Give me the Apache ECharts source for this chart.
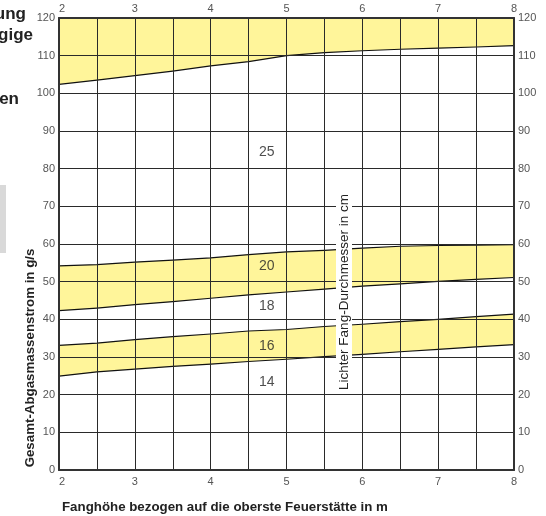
<!DOCTYPE html>
<html>
<head>
<meta charset="utf-8">
<script src="https://cdn.jsdelivr.net/npm/echarts@6/dist/echarts.min.js"></script>
<style>
html,body{margin:0;padding:0;background:#fff;}
#chart{width:546px;height:516px;}
</style>
</head>
<body>
<div id="chart"></div>
<script>
// Fanghöhe (m) sample positions
const xs = [2, 2.5, 3, 3.5, 4, 4.5, 5, 5.5, 6, 6.5, 7, 7.5, 8];
// Band "25" (upper yellow band, top at 120)
const band25Upper = [120, 120, 120, 120, 120, 120, 120, 120, 120, 120, 120, 120, 120];
const band25Lower = [102.4, 103.5, 104.7, 105.9, 107.3, 108.4, 110.0, 110.8, 111.3, 111.7, 112.0, 112.3, 112.65];
// Band "20"
const band20Upper = [54.2, 54.5, 55.2, 55.7, 56.3, 57.2, 57.9, 58.3, 58.9, 59.4, 59.6, 59.7, 59.8];
const band20Lower = [42.3, 43.0, 43.9, 44.7, 45.6, 46.5, 47.25, 48.0, 48.8, 49.4, 50.1, 50.6, 51.1];
// Band "16"
const band16Upper = [33.1, 33.7, 34.6, 35.4, 36.1, 36.9, 37.3, 38.1, 38.7, 39.4, 40.0, 40.7, 41.4];
const band16Lower = [24.9, 26.05, 26.8, 27.5, 28.1, 28.8, 29.4, 30.1, 30.7, 31.4, 32.0, 32.7, 33.3];
// Diameter labels (cm)
const diamLabels = ['25', '20', '18', '16', '14'];
const diamLabelX = [4.74, 4.74, 4.74, 4.74, 4.74];
const diamLabelY = [84.3, 54.2, 43.4, 32.8, 23.4];
// Axis ticks
const xTickMin = 2, xTickMax = 8;
const yTickMin = 0, yTickMax = 120;

const bands = [
  {upper: band25Upper, lower: band25Lower},
  {upper: band20Upper, lower: band20Lower},
  {upper: band16Upper, lower: band16Lower}
];

const chart = echarts.init(document.getElementById('chart'), null, {renderer: 'canvas'});
const FONT = '"Liberation Sans", Arial, Helvetica, sans-serif';
const lineColor = '#2a2a2a';
const labelStyle = {color: '#555', fontSize: 11, fontFamily: FONT};
const xFmt = v => Number.isInteger(v) ? String(v) : '';

const option = {
  animation: false,
  backgroundColor: '#fff',
  grid: {left: 59, right: 32, top: 18, bottom: 46, containLabel: false},
  xAxis: [
    {
      type: 'value', position: 'bottom', min: xTickMin, max: xTickMax, interval: 0.5, z: 5,
      axisLine: {show: true, onZero: false, lineStyle: {color: '#333', width: 2}},
      axisTick: {show: false},
      axisLabel: Object.assign({formatter: xFmt, margin: 6, alignMinLabel: 'left'}, labelStyle),
      splitLine: {show: true, lineStyle: {color: lineColor, width: 1}}
    },
    {
      type: 'value', position: 'top', min: xTickMin, max: xTickMax, interval: 0.5, z: 5,
      axisLine: {show: true, onZero: false, lineStyle: {color: '#333', width: 2}},
      axisTick: {show: false},
      axisLabel: Object.assign({formatter: xFmt, margin: 4, alignMinLabel: 'left'}, labelStyle),
      splitLine: {show: false}
    }
  ],
  yAxis: [
    {
      type: 'value', position: 'left', min: yTickMin, max: yTickMax, interval: 10, z: 5,
      axisLine: {show: true, onZero: false, lineStyle: {color: '#333', width: 2}},
      axisTick: {show: false},
      axisLabel: Object.assign({margin: 4}, labelStyle),
      splitLine: {show: true, lineStyle: {color: lineColor, width: 1}}
    },
    {
      type: 'value', position: 'right', min: yTickMin, max: yTickMax, interval: 10, z: 5,
      axisLine: {show: true, onZero: false, lineStyle: {color: '#333', width: 2}},
      axisTick: {show: false},
      axisLabel: Object.assign({margin: 4}, labelStyle),
      splitLine: {show: false}
    }
  ],
  series: [
    {
      type: 'custom', z: 1, xAxisIndex: 0, yAxisIndex: 0,
      data: bands.map(b => [xs[0], b.lower[0]]),
      renderItem: function (params, api) {
        const b = bands[params.dataIndex];
        const up = xs.map((x, i) => api.coord([x, b.upper[i]]));
        const lo = xs.map((x, i) => api.coord([x, b.lower[i]]));
        return {
          type: 'group',
          children: [
            {type: 'polygon', shape: {points: up.concat(lo.slice().reverse())}, style: {fill: '#fff59a', stroke: null}},
            {type: 'polyline', shape: {points: up}, style: {stroke: '#111', lineWidth: 1.2, fill: null}},
            {type: 'polyline', shape: {points: lo}, style: {stroke: '#111', lineWidth: 1.2, fill: null}}
          ]
        };
      }
    },
    {
      type: 'scatter', z: 10, xAxisIndex: 0, yAxisIndex: 0,
      symbolSize: 0,
      data: diamLabels.map((t, i) => [diamLabelX[i], diamLabelY[i], t]),
      label: {
        show: true, position: 'inside', formatter: p => p.value[2],
        color: '#222', fontSize: 14, fontFamily: FONT
      }
    }
  ],
  graphic: [
    {type: 'rect', left: 0, top: 185, z: 20, shape: {width: 6, height: 68}, style: {fill: '#d9d9d9'}},
    {type: 'text', x: 26, y: 14, z: 20, style: {text: 'ung', font: 'bold 17px ' + FONT, fill: '#222', align: 'right', verticalAlign: 'middle'}},
    {type: 'text', x: 33, y: 35, z: 20, style: {text: 'gige', font: 'bold 17px ' + FONT, fill: '#222', align: 'right', verticalAlign: 'middle'}},
    {type: 'text', x: 19, y: 99, z: 20, style: {text: 'en', font: 'bold 17px ' + FONT, fill: '#222', align: 'right', verticalAlign: 'middle'}},
    {type: 'text', x: 30, y: 358, rotation: Math.PI / 2, z: 20,
      style: {text: 'Gesamt-Abgasmassenstrom in g/s', font: 'bold 13.3px ' + FONT, fill: '#222', align: 'center', verticalAlign: 'middle'}},
    {type: 'text', x: 62, y: 507, z: 20,
      style: {text: 'Fanghöhe bezogen auf die oberste Feuerstätte in m', font: 'bold 13.3px ' + FONT, fill: '#222', align: 'left', verticalAlign: 'middle'}},
    {type: 'text', x: 344, y: 292, rotation: Math.PI / 2, z: 20,
      style: {text: 'Lichter Fang-Durchmesser in cm', font: '13.5px ' + FONT, fill: '#222', align: 'center', verticalAlign: 'middle', backgroundColor: '#fff', padding: [1, 3]}}
  ]
};
chart.setOption(option);
</script>
</body>
</html>
